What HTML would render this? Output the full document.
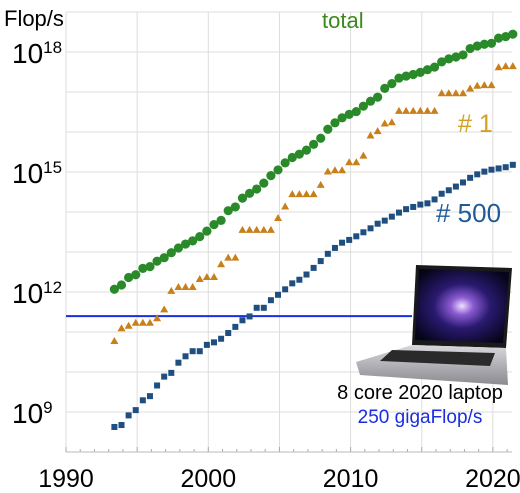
<!DOCTYPE html>
<html><head><meta charset="utf-8"><style>
body{margin:0;background:#fff;width:520px;height:493px;overflow:hidden}
svg{display:block;font-family:"Liberation Sans",sans-serif}
</style></head><body>
<svg id="chart" width="520" height="493" viewBox="0 0 520 493" xmlns="http://www.w3.org/2000/svg">
<defs>
<radialGradient id="gal" cx="50%" cy="50%" r="60%">
<stop offset="0" stop-color="#f0e0ff"/><stop offset="0.2" stop-color="#8a5ad0"/><stop offset="0.5" stop-color="#2a1a70"/><stop offset="1" stop-color="#05051a"/>
</radialGradient>
<linearGradient id="base" x1="0" y1="0" x2="0" y2="1"><stop offset="0" stop-color="#d8d8dc"/><stop offset="1" stop-color="#8a8a90"/></linearGradient>
</defs>
<g id="grid"></g>
<g id="marks"></g>
<text x="4" y="26" font-size="22" fill="#000">Flop/s</text>
<text x="322" y="28" font-size="22" fill="#3a8a1e">total</text>
<text x="458" y="132" font-size="25" fill="#d4a020"># 1</text>
<text x="436" y="222" font-size="26" fill="#1f5a99"># 500</text>
<g>
<polygon points="416,265 512,268 506,348 412,345" fill="#1a1a1a"/>
<polygon points="419,269 509,272 503,343 415,340" fill="url(#gal)"/>
<polygon points="412,345 506,348 508,385 360,375 356,362" fill="url(#base)"/>
<polygon points="392,350 495,353 490,366 380,361" fill="#2a2a2a"/>
</g>
<text x="420" y="399" font-size="20" text-anchor="middle" fill="#000">8 core 2020 laptop</text>
<text x="420" y="423" font-size="19" text-anchor="middle" fill="#1a2ee0">250 gigaFlop/s</text>
</svg>
<script>
const years=[];for(let y=1993;y<=2021;y++){years.push(y+0.4);if(y<2021)years.push(y+0.9);}
const totalTF=[1.17,1.5,2.3,2.7,3.9,4.3,5.9,7.2,9.6,12.6,15.8,19,24.2,33.3,48.4,61.8,108,134,222,293,375,528,813,1127,1690,2300,2790,3530,4920,6970,11700,16950,22600,27600,32400,44200,58900,74200,123000,162000,223000,250000,274000,309000,361000,420000,567000,672000,749000,845000,1220000,1410000,1560000,1650000,2220000,2430000,2790000];
const rank1TF=[0.0597,0.124,0.1435,0.17,0.17,0.17,0.2204,0.368,1.068,1.338,1.338,1.338,2.121,2.379,2.379,4.938,7.226,7.226,35.86,35.86,35.86,35.86,35.86,70.72,136.8,280.6,280.6,280.6,280.6,478.2,1026,1105,1105,1759,1759,2566,8162,10510,16320,17590,33860,33860,33860,33860,33860,33860,93010,93010,93010,93010,122300,143500,148600,148600,415500,442000,442000];
const rank500GF=[0.4224,0.472,0.822,1.114,1.96,2.49,4.6,7.67,9.5,17.1,24.7,33.1,33.1,47.7,55.1,67.8,94.3,134.3,196.2,245,403,403,624,851,1166,1645,2026,2737,4005,5929,9000,12640,17090,20050,24670,31120,39090,50940,60820,76500,96620,117800,133700,153400,164800,206300,286100,349300,432200,548300,715600,874800,1022000,1142000,1228000,1317000,1511000];
const yTickExps=[18,15,12,9];
const xTickYears=[1990,2000,2010,2020];
const laptopFlops=2.5e11;
const NS='http://www.w3.org/2000/svg';
const X0=66,XS=14.23,Y18=52,DEC=40;
const xs=y=>X0+(y-1990)*XS;
const ys=v=>Y18+(18-Math.log10(v))*DEC;
const grid=document.getElementById('grid'),marks=document.getElementById('marks'),svg=document.getElementById('chart');
function mk(p,tag,at){const e=document.createElementNS(NS,tag);for(const k in at)e.setAttribute(k,at[k]);p.appendChild(e);return e;}
for(let e=8;e<=19;e++){const l=mk(grid,'line',{x1:66,x2:512,y1:ys(Math.pow(10,e)),y2:ys(Math.pow(10,e)),stroke:'#ddd','stroke-width':1});

}
for(let y=1990;y<=2020;y+=5){const l=mk(grid,'line',{x1:xs(y),x2:xs(y),y1:ys(1e19),y2:ys(1e8),stroke:'#ddd','stroke-width':1});

}
for(let y=1990;y<=2021;y++){const l=mk(grid,'line',{x1:xs(y),x2:xs(y),y1:ys(1e8)-(y%5==0?5:3),y2:ys(1e8),stroke:'#aaa','stroke-width':1});

}
const ax=mk(grid,'line',{x1:66,x2:512,y1:ys(1e8),y2:ys(1e8),stroke:'#bbb','stroke-width':1});


yTickExps.forEach(e=>{const t=mk(svg,'text',{x:12,y:ys(Math.pow(10,e))+11,'font-size':28,fill:'#000'});


t.textContent='10';const s=mk(t,'tspan',{'font-size':17,dy:-10});s.textContent=String(e);});
xTickYears.forEach(y=>{const t=mk(svg,'text',{x:xs(y),y:487,'font-size':25,'text-anchor':'middle',fill:'#000'});


t.textContent=String(y);});
const bl=mk(marks,'line',{x1:66,x2:412,y1:ys(laptopFlops),y2:ys(laptopFlops),stroke:'#1a2ee0','stroke-width':2});


rank500GF.forEach((v,i)=>{const x=xs(years[i]),y=ys(v*1e9);const r=mk(marks,'rect',{x:x-3,y:y-3,width:6,height:6,fill:'#1f4e80'});

});
rank1TF.forEach((v,i)=>{const x=xs(years[i]),y=ys(v*1e12);const p=mk(marks,'polygon',{points:`${x-4},${y+3} ${x+4},${y+3} ${x},${y-4}`,fill:'#c8801a'});

});
totalTF.forEach((v,i)=>{const c=mk(marks,'circle',{cx:xs(years[i]),cy:ys(v*1e12),r:4.6,fill:'#2a8a2a'});

});
</script>
</body></html>
